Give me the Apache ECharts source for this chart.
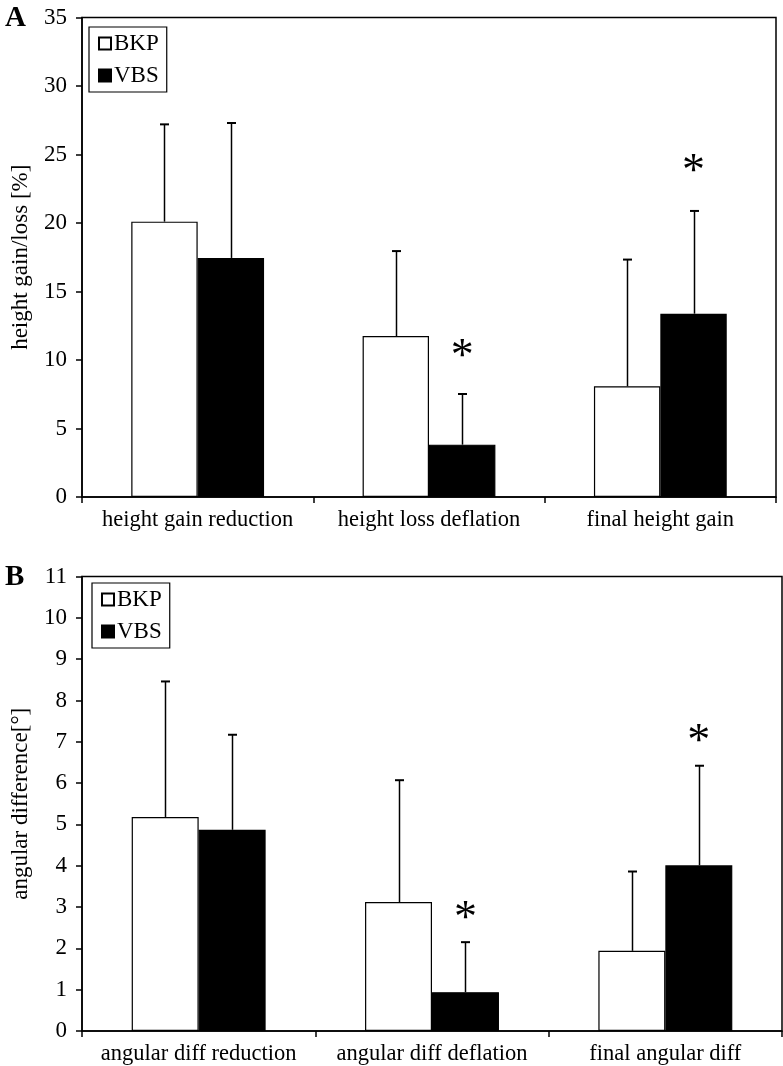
<!DOCTYPE html>
<html>
<head>
<meta charset="utf-8">
<script src="https://cdn.jsdelivr.net/npm/echarts@6/dist/echarts.min.js"></script>
<style>
html,body{margin:0;padding:0;background:#fff;}
#chart{width:783px;height:1066px;}
</style>
</head>
<body>
<div id="chart"></div>
<script>
// ---------- data ----------
const categoriesA = ['height gain reduction', 'height loss deflation', 'final height gain'];
const bkpA = [20.1, 11.75, 8.08];
const bkpSdA = [7.1, 6.2, 9.25];
const vbsA = [17.45, 3.82, 13.38];
const vbsSdA = [9.85, 3.7, 7.5];
const sigYA = [null, 10.9, 24.4];   // asterisk positions (VBS significant)
const yTicksA = { min: 0, max: 35, interval: 5 };

const categoriesB = ['angular diff reduction', 'angular diff deflation', 'final angular diff'];
const bkpB = [5.18, 3.12, 1.94];
const bkpSdB = [3.28, 2.95, 1.92];
const vbsB = [4.87, 0.94, 4.01];
const vbsSdB = [2.3, 1.21, 2.41];
const sigYB = [null, 2.93, 7.22];
const yTicksB = { min: 0, max: 11, interval: 1 };

const seriesNames = ['BKP', 'VBS'];

// ---------- style ----------
const FONT = '"Liberation Serif", "Times New Roman", serif';
const BAR_FRAC = 0.287;
const LINE = '#000';

const chart = echarts.init(document.getElementById('chart'), null, { renderer: 'canvas' });

function errSeries(name, gi, means, sds, side) {
  return {
    type: 'custom',
    name: name + '_err',
    xAxisIndex: gi, yAxisIndex: gi,
    z: 5,
    silent: true,
    data: means.map((m, i) => [i, m, m + sds[i]]),
    renderItem: function (params, api) {
      const x = api.value(0), m = api.value(1), t = api.value(2);
      const p0 = api.coord([x, m]);
      const p1 = api.coord([x, t]);
      const catW = api.size([1, 0])[0];
      const cx = Math.round(p0[0] + side * catW * BAR_FRAC / 2) + 0.5;
      return {
        type: 'group',
        children: [
          { type: 'line', shape: { x1: cx, y1: p0[1], x2: cx, y2: p1[1] }, style: { stroke: LINE, lineWidth: 1.5 } },
          { type: 'line', shape: { x1: cx - 4.5, y1: p1[1], x2: cx + 4.5, y2: p1[1] }, style: { stroke: LINE, lineWidth: 2 } }
        ]
      };
    }
  };
}

function sigSeries(gi, ys, side) {
  const data = [];
  ys.forEach((y, i) => { if (y !== null) data.push([i, y]); });
  return {
    type: 'custom',
    name: 'sig' + gi,
    xAxisIndex: gi, yAxisIndex: gi,
    z: 6, silent: true,
    data: data,
    renderItem: function (params, api) {
      const p = api.coord([api.value(0), api.value(1)]);
      const catW = api.size([1, 0])[0];
      const cx = p[0] + side * catW * BAR_FRAC / 2;
      return {
        type: 'text',
        x: cx, y: p[1] + 10,
        style: { text: '*', font: '46px ' + FONT, fill: '#000', align: 'center', verticalAlign: 'middle' }
      };
    }
  };
}

function barSeries(name, gi, vals) {
  const isB = name === 'BKP';
  return {
    type: 'bar', name: name,
    xAxisIndex: gi, yAxisIndex: gi,
    data: vals,
    barWidth: (BAR_FRAC * 100) + '%',
    barGap: '0%',
    itemStyle: { color: isB ? '#fff' : '#000', borderColor: '#000', borderWidth: 1.2 },
    emphasis: { disabled: true },
    z: 2
  };
}

function xAxis(gi, cats) {
  return {
    type: 'category', gridIndex: gi, data: cats,
    axisLine: { lineStyle: { color: LINE, width: 1.5 } },
    axisTick: { show: true, interval: 0, length: 6, lineStyle: { color: LINE, width: 1.5 } },
    axisLabel: { color: '#000', fontFamily: FONT, fontSize: 22.5, margin: 12, interval: 0, hideOverlap: false },
    splitLine: { show: false }
  };
}

function yAxis(gi, t, name, gap) {
  return {
    type: 'value', gridIndex: gi, min: t.min, max: t.max, interval: t.interval,
    axisLine: { show: true, lineStyle: { color: LINE, width: 1.5 } },
    axisTick: { show: true, length: 6, lineStyle: { color: LINE, width: 1.5 } },
    axisLabel: { color: '#000', fontFamily: FONT, fontSize: 23, margin: 15 },
    splitLine: { show: false },
    name: name, nameLocation: 'middle', nameGap: gap,
    nameTextStyle: { color: '#000', fontFamily: FONT, fontSize: 23 }
  };
}

function legend(left, top) {
  return {
    data: seriesNames, orient: 'vertical', left: left, top: top,
    itemWidth: 12, itemHeight: 12, itemGap: 9,
    icon: 'rect',
    borderColor: '#000', borderWidth: 1.2, borderRadius: 0,
    padding: [5, 8, 5, 9],
    selectedMode: false,
    textStyle: { color: '#000', fontFamily: FONT, fontSize: 23, padding: [0, 0, 0, -2] }
  };
}

const option = {
  backgroundColor: '#fff',
  animation: false,
  graphic: [
    { type: 'text', left: 5, top: 4, style: { text: 'A', font: 'bold 29px ' + FONT, fill: '#000' } },
    { type: 'text', left: 5, top: 563, style: { text: 'B', font: 'bold 29px ' + FONT, fill: '#000' } }
  ],
  legend: [legend(89, 27), legend(92, 583)],
  grid: [
    { left: 82, top: 17.5, width: 694, height: 479.5, show: true, borderColor: LINE, borderWidth: 1.5, containLabel: false },
    { left: 82, top: 576.5, width: 700, height: 454.5, show: true, borderColor: LINE, borderWidth: 1.5, containLabel: false }
  ],
  xAxis: [xAxis(0, categoriesA), xAxis(1, categoriesB)],
  yAxis: [yAxis(0, yTicksA, 'height gain/loss [%]', 50), yAxis(1, yTicksB, 'angular difference[°]', 50)],
  series: [
    barSeries('BKP', 0, bkpA), barSeries('VBS', 0, vbsA),
    errSeries('BKP', 0, bkpA, bkpSdA, -1), errSeries('VBS', 0, vbsA, vbsSdA, 1),
    sigSeries(0, sigYA, 1),
    barSeries('BKP', 1, bkpB), barSeries('VBS', 1, vbsB),
    errSeries('BKP', 1, bkpB, bkpSdB, -1), errSeries('VBS', 1, vbsB, vbsSdB, 1),
    sigSeries(1, sigYB, 1)
  ]
};
chart.setOption(option);
</script>
</body>
</html>
